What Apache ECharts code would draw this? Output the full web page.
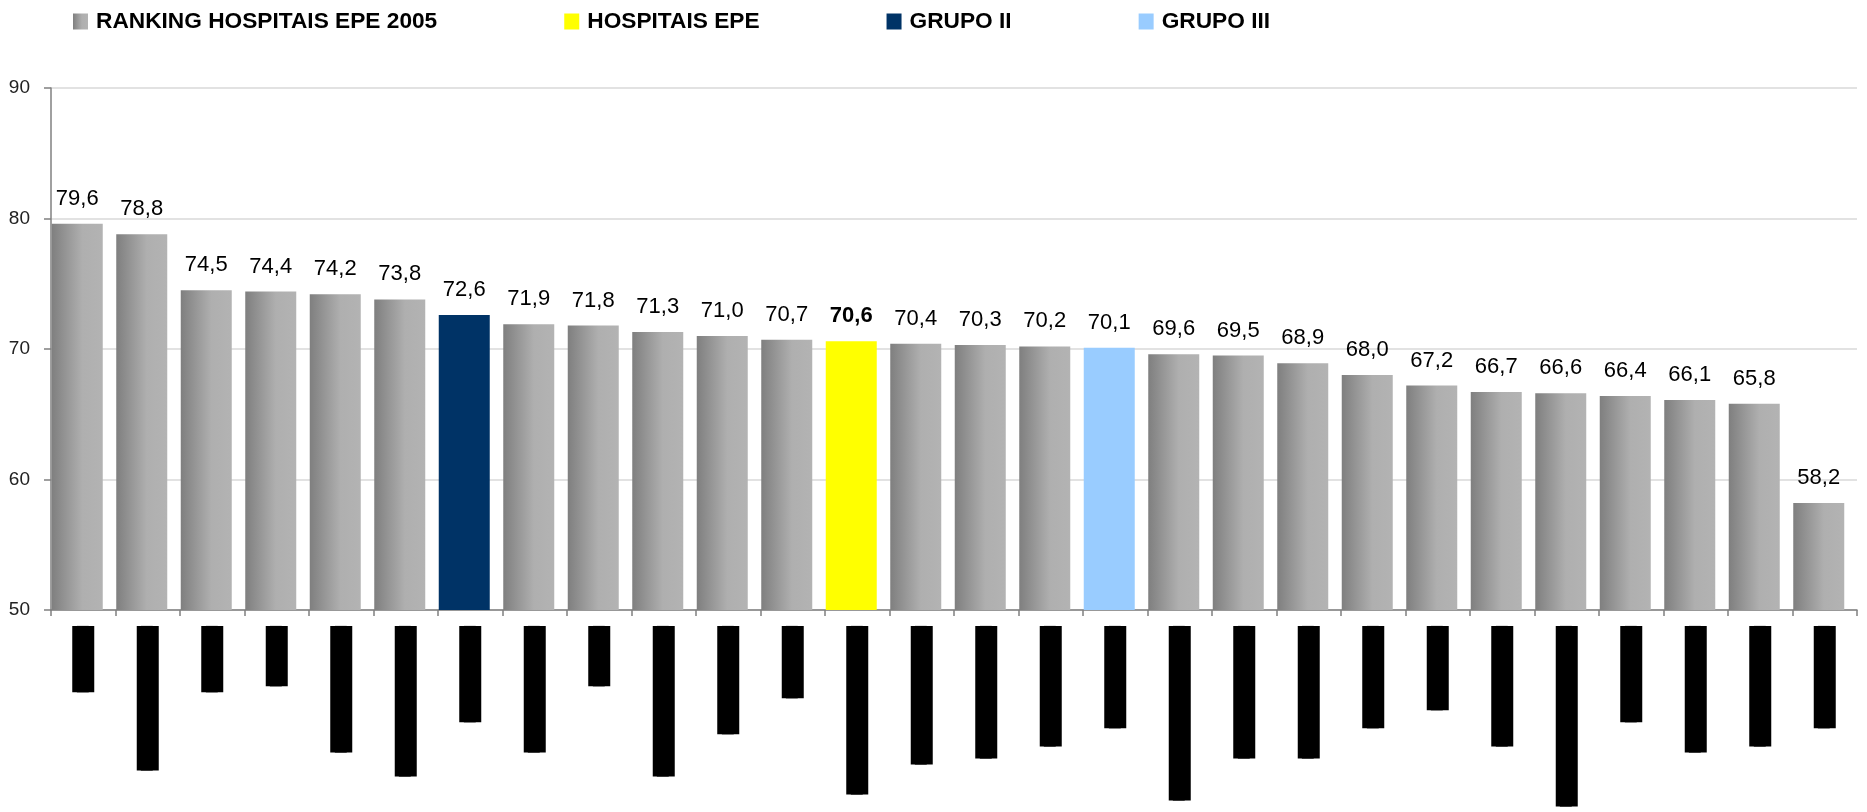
<!DOCTYPE html>
<html>
<head>
<meta charset="utf-8">
<script src="https://cdn.jsdelivr.net/npm/echarts@6/dist/echarts.min.js"></script>
<style>
html,body{margin:0;padding:0;background:#fff;}
#chart{width:1867px;height:812px;}
</style>
</head>
<body>
<div id="chart"></div>
<script>
// Hospital names are redacted in the reference (shown as black bars)
var categories = [
  '███████████',
  '████████████████████████',
  '███████████',
  '██████████',
  '█████████████████████',
  '█████████████████████████',
  '████████████████',
  '█████████████████████',
  '██████████',
  '█████████████████████████',
  '██████████████████',
  '████████████',
  '████████████████████████████',
  '███████████████████████',
  '██████████████████████',
  '████████████████████',
  '█████████████████',
  '█████████████████████████████',
  '██████████████████████',
  '██████████████████████',
  '█████████████████',
  '██████████████',
  '████████████████████',
  '██████████████████████████████',
  '████████████████',
  '█████████████████████',
  '████████████████████',
  '█████████████████'
];
var values = [79.6, 78.8, 74.5, 74.4, 74.2, 73.8, 72.6, 71.9, 71.8, 71.3, 71.0, 70.7, 70.6, 70.4,
              70.3, 70.2, 70.1, 69.6, 69.5, 68.9, 68.0, 67.2, 66.7, 66.6, 66.4, 66.1, 65.8, 58.2];
var groups = ['RANKING HOSPITAIS EPE 2005','RANKING HOSPITAIS EPE 2005','RANKING HOSPITAIS EPE 2005',
  'RANKING HOSPITAIS EPE 2005','RANKING HOSPITAIS EPE 2005','RANKING HOSPITAIS EPE 2005','GRUPO II',
  'RANKING HOSPITAIS EPE 2005','RANKING HOSPITAIS EPE 2005','RANKING HOSPITAIS EPE 2005',
  'RANKING HOSPITAIS EPE 2005','RANKING HOSPITAIS EPE 2005','HOSPITAIS EPE',
  'RANKING HOSPITAIS EPE 2005','RANKING HOSPITAIS EPE 2005','RANKING HOSPITAIS EPE 2005','GRUPO III',
  'RANKING HOSPITAIS EPE 2005','RANKING HOSPITAIS EPE 2005','RANKING HOSPITAIS EPE 2005',
  'RANKING HOSPITAIS EPE 2005','RANKING HOSPITAIS EPE 2005','RANKING HOSPITAIS EPE 2005',
  'RANKING HOSPITAIS EPE 2005','RANKING HOSPITAIS EPE 2005','RANKING HOSPITAIS EPE 2005',
  'RANKING HOSPITAIS EPE 2005','RANKING HOSPITAIS EPE 2005'];
var seriesNames = ['RANKING HOSPITAIS EPE 2005', 'HOSPITAIS EPE', 'GRUPO II', 'GRUPO III'];
var yTicks = [50, 60, 70, 80, 90];

var greyGrad = new echarts.graphic.LinearGradient(0, 0, 1, 0, [
  {offset: 0, color: '#7f7f7f'},
  {offset: 0.6, color: '#afafaf'},
  {offset: 1, color: '#b3b3b3'}
]);
var seriesColors = [greyGrad, '#ffff00', '#003366', '#99ccff'];

function fmt(v) { return v.toFixed(1).replace('.', ','); }

var series = seriesNames.map(function (name, si) {
  return {
    name: name,
    type: 'bar',
    barWidth: 51,
    barGap: '-100%',
    itemStyle: {color: seriesColors[si]},
    label: {
      show: true,
      position: 'top',
      distance: 14,
      fontFamily: 'Liberation Sans, Arial, sans-serif',
      fontSize: 22,
      fontWeight: name === 'HOSPITAIS EPE' ? 'bold' : 'normal',
      color: '#000',
      formatter: function (p) { return fmt(p.value); }
    },
    data: values.map(function (v, i) { return groups[i] === name ? v : '-'; })
  };
});
// empty spacer series (keeps bars slightly left of the category centre, as in the reference)
series.push({
  name: 'spacer', type: 'bar', barWidth: 63, barGap: '-100%', silent: true,
  data: values.map(function () { return '-'; })
});

var chart = echarts.init(document.getElementById('chart'), null, {renderer: 'canvas'});
chart.setOption({
  animation: false,
  backgroundColor: '#fff',
  legend: {
    data: seriesNames,
    left: 73,
    top: 10,
    padding: 0,
    itemWidth: 15,
    itemHeight: 16,
    itemGap: 127,
    icon: 'rect',
    selectedMode: false,
    textStyle: {
      fontFamily: 'Liberation Sans, Arial, sans-serif',
      fontSize: 22.7,
      fontWeight: 'bold',
      color: '#000',
      padding: [0, 0, 0, 3]
    }
  },
  grid: {left: 51, right: 10, top: 88, bottom: 202, containLabel: false},
  xAxis: {
    type: 'category',
    data: categories,
    axisLine: {lineStyle: {color: '#808080', width: 1.5}},
    axisTick: {show: true, length: 6, lineStyle: {color: '#808080', width: 1.5}},
    axisLabel: {
      interval: 0,
      rotate: 90,
      margin: 16,
      fontFamily: 'DejaVu Sans Mono, monospace',
      fontSize: 10,
      lineHeight: 22,
      color: '#000',
      backgroundColor: '#000',
      hideOverlap: false
    }
  },
  yAxis: {
    type: 'value',
    min: yTicks[0],
    max: yTicks[yTicks.length - 1],
    interval: 10,
    axisLine: {show: true, lineStyle: {color: '#808080', width: 1.5}},
    axisTick: {show: true, length: 7, lineStyle: {color: '#808080', width: 1.5}},
    splitLine: {show: true, lineStyle: {color: '#d9d9d9', width: 1.5}},
    axisLabel: {
      margin: 21,
      fontFamily: 'Liberation Sans, Arial, sans-serif',
      fontSize: 19,
      color: '#222'
    }
  },
  series: series
});
</script>
</body>
</html>
